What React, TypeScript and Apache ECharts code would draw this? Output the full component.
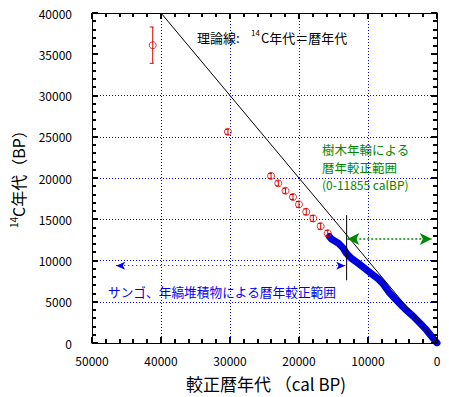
import React, { useEffect, useRef } from "react";
import * as echarts from "echarts";

// Data (cal BP vs 14C BP)
const redCal = [41200, 30300, 24050, 23000, 21950, 20870, 20000, 18950, 17930, 16860, 15840];
const red14C = [36100, 25600, 20250, 19350, 18450, 17700, 16800, 15900, 15100, 14150, 13300];
const redErr = [2200, 300, 300, 300, 300, 300, 350, 350, 350, 350, 350];

const bandCal = [15600, 15300, 14300, 13600, 13100, 12400, 11400, 10400, 9500, 8500, 7800, 7000, 6000, 5600, 4400, 3400, 2400, 1500, 500, 0];
const band14C = [12900, 12600, 12100, 11500, 10850, 10250, 9650, 9000, 8400, 7750, 7150, 6200, 5300, 4950, 3950, 3200, 2350, 1550, 500, 0];

const theoryLine = [[40000, 40000], [0, 0]];
const treeLimitCal = 13100;
const treeLimit14C = [15500, 7600];
const greenArrow = { y: 12600, from: 13000, to: 750 };
const blueArrow = { y: 9370, from: 13300, to: 46500 };

const xGrid = [10000, 20000, 30000, 40000];
const yGrid = [5000, 10000, 15000, 20000, 25000, 30000];

// axis ranges and tick steps
const X_MIN = 0, X_MAX = 50000, X_MAJOR = 10000, X_MINOR = 2000;
const Y_MIN = 0, Y_MAX = 40000, Y_MAJOR = 5000, Y_MINOR = 1000;

const FONT = '"Noto Sans CJK JP", "Noto Sans", sans-serif';

const makeAxis = (extra: any) => ({
  type: "value",
  axisLine: { show: true, onZero: false, lineStyle: { color: "#000000", width: 1 } },
  axisTick: { show: false },
  minorTick: { show: false },
  splitLine: { show: false },
  minorSplitLine: { show: false },
  ...extra,
});

export default function App() {
  const ref = useRef<HTMLDivElement>(null);
  useEffect(() => {
    document.body.style.margin = "0";
    const chart = echarts.init(ref.current!, null, { renderer: "svg" });
    const gridLineStyle = { color: "#0000ff", width: 1, type: [1, 2] };
    const fmt = (v: number) => String(v);
    const xTicks: number[] = [];
    for (let v = X_MIN; v <= X_MAX; v += X_MINOR) xTicks.push(v);
    const yTicks: number[] = [];
    for (let v = Y_MIN; v <= Y_MAX; v += Y_MINOR) yTicks.push(v);

    chart.setOption({
      animation: false,
      textStyle: { fontFamily: FONT },
      grid: { left: 92, top: 13, width: 345, height: 330 },
      xAxis: [
        makeAxis({
          min: X_MIN, max: X_MAX, interval: X_MAJOR, inverse: true, position: "bottom",
          axisLabel: { color: "#000", fontSize: 12, margin: 11, fontFamily: FONT, formatter: fmt },
        }),
        makeAxis({
          min: X_MIN, max: X_MAX, interval: X_MAJOR, inverse: true, position: "top",
          axisLabel: { show: false },
        }),
      ],
      yAxis: [
        makeAxis({
          min: Y_MIN, max: Y_MAX, interval: Y_MAJOR, position: "left",
          axisLabel: { color: "#000", fontSize: 12, margin: 20, fontFamily: FONT, formatter: fmt },
        }),
        makeAxis({
          min: Y_MIN, max: Y_MAX, interval: Y_MAJOR, position: "right",
          axisLabel: { show: false },
        }),
      ],
      series: [
        {
          type: "line",
          data: [],
          silent: true,
          markLine: {
            silent: true,
            symbol: "none",
            label: { show: false },
            lineStyle: gridLineStyle,
            data: [
              ...xGrid.map((v) => ({ xAxis: v })),
              ...yGrid.map((v) => ({ yAxis: v })),
            ],
          },
        },
        {
          type: "line",
          data: theoryLine,
          symbol: "none",
          lineStyle: { color: "#000", width: 1 },
          z: 3,
        },
        {
          type: "line",
          data: bandCal.map((c, i) => [c, band14C[i]]),
          symbol: "none",
          lineStyle: { color: "#0000dd", width: 7, cap: "round", join: "round" },
          z: 2,
        },
        {
          type: "line",
          data: treeLimit14C.map((v) => [treeLimitCal, v]),
          symbol: "none",
          lineStyle: { color: "#000", width: 1 },
          z: 4,
        },
        {
          type: "line",
          data: [],
          markLine: {
            silent: true,
            symbol: ["arrow", "arrow"],
            symbolSize: [9, 12],
            label: { show: false },
            lineStyle: { color: "#008800", width: 1.5, type: [2, 2] },
            itemStyle: { color: "#008800" },
            data: [[
              { coord: [greenArrow.from, greenArrow.y] },
              { coord: [greenArrow.to, greenArrow.y] },
            ]],
          },
          z: 5,
        },
        {
          type: "line",
          data: [],
          markLine: {
            silent: true,
            symbol: ["arrow", "arrow"],
            symbolSize: [6, 9],
            label: { show: false },
            lineStyle: { color: "#0000ee", width: 1, type: [1, 3] },
            data: [[
              { coord: [blueArrow.from, blueArrow.y] },
              { coord: [blueArrow.to, blueArrow.y] },
            ]],
          },
          z: 5,
        },
        {
          type: "custom",
          data: redCal.map((c, i) => [c, red14C[i], redErr[i]]),
          renderItem: (params: any, api: any) => {
            const x = api.value(0), y = api.value(1), e = api.value(2);
            const top = api.coord([x, y + e]);
            const bot = api.coord([x, y - e]);
            const st = { stroke: "#e00000", lineWidth: 1 };
            return {
              type: "group",
              children: [
                { type: "line", shape: { x1: top[0], y1: top[1], x2: bot[0], y2: bot[1] }, style: st },
                { type: "line", shape: { x1: top[0] - 3, y1: top[1], x2: top[0] + 1, y2: top[1] }, style: st },
                { type: "line", shape: { x1: bot[0] - 3, y1: bot[1], x2: bot[0] + 1, y2: bot[1] }, style: st },
              ],
            };
          },
          z: 6,
        },
        {
          type: "scatter",
          data: redCal.map((c, i) => [c, red14C[i]]),
          symbol: "circle",
          symbolSize: 7,
          itemStyle: { color: "transparent", borderColor: "#e00000", borderWidth: 1 },
          z: 7,
        },
      ],
      graphic: [
        { type: "text", x: 197, y: 37, style: { text: "理論線:", fontSize: 13, fontFamily: FONT, fill: "#000", verticalAlign: "middle" } },
        { type: "text", x: 251, y: 32, style: { text: "14", fontSize: 8, fontFamily: FONT, fill: "#000", verticalAlign: "middle" } },
        { type: "text", x: 261, y: 37, style: { text: "C年代＝暦年代", fontSize: 13, fontFamily: FONT, fill: "#000", verticalAlign: "middle" } },
        { type: "text", x: 322, y: 149, style: { text: "樹木年輪による", fontSize: 12.5, fontFamily: FONT, fill: "#008800", verticalAlign: "middle" } },
        { type: "text", x: 322, y: 167.5, style: { text: "暦年較正範囲", fontSize: 12.5, fontFamily: FONT, fill: "#008800", verticalAlign: "middle" } },
        { type: "text", x: 322, y: 184.5, style: { text: "(0-11855 calBP)", fontSize: 12, fontFamily: FONT, fill: "#008800", verticalAlign: "middle" } },
        { type: "text", x: 108, y: 291.5, style: { text: "サンゴ、年縞堆積物による暦年較正範囲", fontSize: 12.7, fontFamily: FONT, fill: "#0000ee", verticalAlign: "middle" } },
        { type: "text", x: 266, y: 383, style: { text: "較正暦年代 （cal BP)", fontSize: 17, fontFamily: FONT, fill: "#000", align: "center", verticalAlign: "middle" } },
        {
          type: "group",
          x: 18,
          y: 175,
          rotation: Math.PI / 2,
          children: [
            { type: "text", x: -53, y: -5, style: { text: "14", fontSize: 10, fontFamily: FONT, fill: "#000", verticalAlign: "middle" } },
            { type: "text", x: -42, y: 0, style: { text: "C年代（BP）", fontSize: 16, fontFamily: FONT, fill: "#000", verticalAlign: "middle" } },
          ],
        },
      ],
    });

    // inward tick marks on all four sides, placed through the axes' own scales
    const px = (v: number[]) => chart.convertToPixel({ xAxisIndex: 0, yAxisIndex: 0 }, v) as number[];
    const tickStyle = { stroke: "#000000", lineWidth: 2 };
    const ticks: any[] = [];
    xTicks.forEach((v, i) => {
      const len = v % X_MAJOR === 0 ? 6 : 4;
      const b = px([v, Y_MIN]);
      const t = px([v, Y_MAX]);
      const x = Math.round(b[0]);
      ticks.push({ type: "line", id: "xb" + i, silent: true, z: 100, shape: { x1: x, y1: b[1], x2: x, y2: b[1] - len }, style: tickStyle });
      ticks.push({ type: "line", id: "xt" + i, silent: true, z: 100, shape: { x1: x, y1: t[1], x2: x, y2: t[1] + len }, style: tickStyle });
    });
    yTicks.forEach((v, i) => {
      const len = v % Y_MAJOR === 0 ? 6 : 4;
      const l = px([X_MAX, v]);
      const r = px([X_MIN, v]);
      const y = Math.round(l[1]);
      ticks.push({ type: "line", id: "yl" + i, silent: true, z: 100, shape: { x1: l[0], y1: y, x2: l[0] + len, y2: y }, style: tickStyle });
      ticks.push({ type: "line", id: "yr" + i, silent: true, z: 100, shape: { x1: r[0], y1: y, x2: r[0] - len, y2: y }, style: tickStyle });
    });
    chart.setOption({ graphic: ticks });

    return () => chart.dispose();
  }, []);
  return <div ref={ref} style={{ width: 449, height: 397 }} />;
}
